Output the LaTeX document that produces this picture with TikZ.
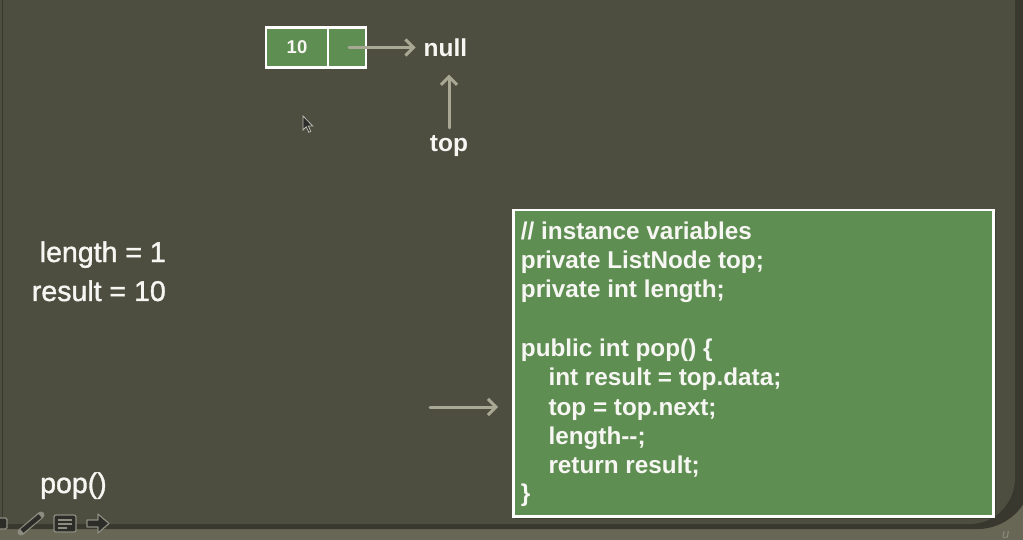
\documentclass[tikz,border=0pt]{standalone}
\usepackage{fontspec}
\setmainfont{Liberation Sans}
\newfontfamily\heavyfont[FakeBold=1.3]{Liberation Sans}
\usetikzlibrary{arrows.meta}
\definecolor{slidebg}{RGB}{78,78,64}
\definecolor{outerc}{RGB}{104,103,86}
\definecolor{shadowc}{RGB}{56,56,46}
\definecolor{boxgreen}{RGB}{95,142,82}
\definecolor{arrowc}{RGB}{168,168,148}
\definecolor{txt}{RGB}{246,246,242}
\definecolor{iconc}{RGB}{44,44,40}
\definecolor{iconout}{RGB}{140,140,128}
\begin{document}
\begin{tikzpicture}[x=1pt,y=-1pt,
  conn/.style={draw=arrowc, line width=3pt, line cap=round, -{Straight Barb[length=8pt,width=16pt]}},
  cell/.style={draw=white, line width=2.5pt, fill=boxgreen, inner sep=0pt, outer sep=0pt, minimum height=40pt, anchor=north west, text=txt, font=\fontsize{18.5}{20}\selectfont\bfseries},
  code/.style={anchor=base west, text=txt, inner sep=0pt, font=\fontsize{24.3}{29}\selectfont\bfseries},
  big/.style={text=txt, inner sep=0pt, font=\heavyfont\fontsize{28.5}{34}\selectfont},
  lbl/.style={text=txt, inner sep=4pt, anchor=base, font=\fontsize{24.5}{28}\selectfont\bfseries}]
\useasboundingbox (0,0) rectangle (1023,540);
% background and slide
\fill[outerc] (0,0) rectangle (1023,540);
\fill[shadowc] (-10,-10) -- (1030,-10) -- (1030,482) .. controls (1030,507) and (1005,529) .. (978,529) -- (-10,529) -- cycle;
\fill[slidebg] (-10,-10) -- (1015,-10) -- (1015,478) .. controls (1015,503) and (995,524) .. (970,524) -- (-10,524) -- cycle;
\draw[shadowc, line width=1pt] (2.5,0) -- (2.5,524);
% linked list node
\node[cell, minimum width=62pt] (data) at (266,27.5) {10};
\node[cell, minimum width=38pt] (nxt) at (data.north east) {};
\node[lbl] (null) at (445.5,56.3) {null};
\node[lbl, inner sep=2pt] (top) at (449,152) {top};
\draw[conn, shorten >=4pt, shorten <=2pt] (nxt.center) -- (nxt.center -| null.west);
\draw[conn, shorten >=14pt, shorten <=6pt] (top.north) -- (top.north |- null.south);
% cursor
\filldraw[fill=iconc, draw=white!60!slidebg, line width=0.8pt] (303,116) -- ++(0,14) -- ++(3.2,-3.2) -- ++(2.6,5.5) -- ++(2,-0.9) -- ++(-2.5,-5.3) -- ++(4.5,0) -- cycle;
% variables
\node[big, anchor=base east] (len) at (166,262) {length = 1};
\node[big, anchor=base east] (res) at (166,301) {result = 10};
\node[big, anchor=base west] (pop) at (40,493) {pop()};
% code box
\fill[shadowc, opacity=0.7] (515,212) rectangle (996,519);
\node[draw=white, line width=2.5pt, fill=boxgreen, minimum width=480pt, minimum height=306pt, inner sep=0pt, anchor=north west] (code) at (512,209) {};
\node[code] (c1) at (520.7,239.3) {// instance variables};
\node[code] (c2) at (520.7,268.3) {private ListNode top;};
\node[code] (c3) at (520.7,297.7) {private int length;};
\node[code] (c4) at (520.7,356.7) {public int pop() \{};
\node[code] (c5) at (548.3,385.7) {int result = top.data;};
\node[code] (c6) at (548.3,415) {top = top.next;};
\node[code] (c7) at (548.3,444.3) {length-{}-;};
\node[code] (c8) at (548.3,473.3) {return result;};
\node[code] (c9) at (520.7,501.7) {\}};
\coordinate (la) at (430,407);
\draw[conn, shorten >=14pt] (la) -- (la -| code.west);
% player toolbar icons
\filldraw[fill=iconc, draw=iconout, line width=1.2pt, rounded corners=1.5pt] (-6,518) rectangle (7,529);
\draw[iconout, line width=7pt, line cap=round] (21,532) -- (41,515);
\draw[iconc, line width=4.5pt] (22,531) -- (40,516);
\filldraw[fill=iconc, draw=iconout, line width=1.2pt, rounded corners=2pt] (54,515) rectangle (76,532);
\draw[iconout, line width=1.2pt] (58,520) -- (72,520) (58,524) -- (72,524) (58,528) -- (67,528);
\filldraw[fill=iconc, draw=iconout, line width=1.2pt, line join=round] (87,520) -- (98,520) -- (98,514) -- (109,523.5) -- (98,533) -- (98,527) -- (87,527) -- cycle;
\node[text=iconout, inner sep=0pt, anchor=base west, font=\fontsize{13}{14}\selectfont\itshape] (logo) at (1002,538) {u};
\end{tikzpicture}
\end{document}
